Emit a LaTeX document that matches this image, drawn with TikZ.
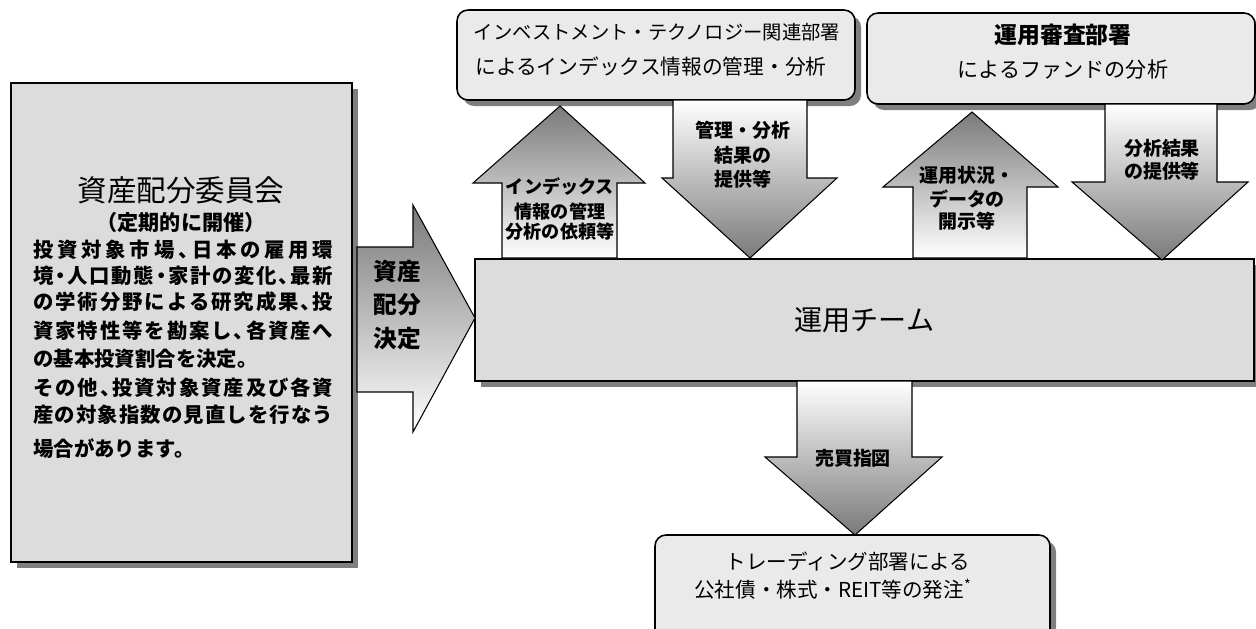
\documentclass[tikz,border=0pt]{standalone}
\usepackage{fontspec}
\setmainfont{Noto Sans CJK JP}
\newfontfamily\jpbody{Noto Sans CJK JP}[RawFeature=+halt]
\usetikzlibrary{shadows}
\definecolor{boxgray}{HTML}{DCDCDC}
\definecolor{boxlight}{HTML}{EAEAEA}
\definecolor{shadowgray}{HTML}{7F7F7F}
\definecolor{arrowdark}{HTML}{7A7A7A}
\makeatletter
\newcommand\jline[2]{\hbox to #1{\let\jl@sep\relax\@tfor\jl@c:=#2\do{\jl@sep\jl@c\let\jl@sep\hfil}}}
\makeatother
\tikzset{
  shadowed/.style={drop shadow={shadow xshift=1.2mm, shadow yshift=-1.2mm, fill=shadowgray, opacity=1}},
  sqbox/.style={draw=black, line width=0.9pt, fill=boxgray, inner sep=0pt, outer sep=0pt, anchor=north west, shadowed},
  rbox/.style={draw=black, line width=0.9pt, fill=boxlight, rounded corners=2.2mm, inner sep=0pt, outer sep=0pt, anchor=north west, shadowed},
  uparrow/.style={draw=black, line width=0.6pt, top color=arrowdark, bottom color=white},
  downarrow/.style={draw=black, line width=0.6pt, top color=white, bottom color=arrowdark},
  lbl/.style={inner sep=0pt, font=\bfseries\fontsize{10.8}{12}\selectfont, align=center},
  body/.style={inner sep=0pt, anchor=west, font=\jpbody\bfseries\fontsize{11.6}{14}\selectfont},
}
\begin{document}
\begin{tikzpicture}[x=0.2mm, y=-0.2mm]
\useasboundingbox (0,0) rectangle (1256,628);
% boxes
\node[sqbox, minimum width=341*0.2mm, minimum height=479*0.2mm] (committee) at (11,83) {};
\node[sqbox, minimum width=779*0.2mm, minimum height=122*0.2mm] (team) at (475,259) {};
\node[rbox, minimum width=398*0.2mm, minimum height=90*0.2mm] (itbox) at (457,10) {};
\node[rbox, minimum width=388*0.2mm, minimum height=91*0.2mm] (review) at (867,13) {};
\node[rbox, minimum width=395*0.2mm, minimum height=110*0.2mm] (trading) at (655,535) {};

% arrows
\shadedraw[uparrow] (357,247) -- (413,247) -- (413,205) -- (475,318) -- (413,432) -- (413,392) -- (357,392) -- cycle;
\shadedraw[uparrow] (502,258) -- (502,183) -- (473,183) -- (560,106) -- (645,183) -- (617,183) -- (617,258) -- cycle;
\shadedraw[downarrow] (673,100) -- (807,100) -- (807,178) -- (837,178) -- (750,258) -- (662,178) -- (673,178) -- cycle;
\shadedraw[uparrow] (913,258) -- (913,187) -- (883,187) -- (972,112) -- (1058,187) -- (1027,187) -- (1027,258) -- cycle;
\shadedraw[downarrow] (1105,104) -- (1217,104) -- (1217,182) -- (1248,182) -- (1162,260) -- (1072,182) -- (1105,182) -- cycle;
\shadedraw[downarrow] (797,381) -- (912,381) -- (912,457) -- (942,457) -- (855,535) -- (765,457) -- (797,457) -- cycle;

% committee text
\node[inner sep=0pt, font=\fontsize{16.8}{18}\selectfont] (ctitle) at (181,190) {資産配分委員会};
\node[inner sep=0pt, font=\bfseries\fontsize{12}{14}\selectfont] (csub) at (181,222) {（定期的に開催）};
\node[body] (b1) at (33,250) {\jline{60mm}{投資対象市場、日本の雇用環}};
\node[body] (b2) at (33,276) {\jline{60mm}{境・人口動態・家計の変化、最新}};
\node[body] (b3) at (33,302) {\jline{60mm}{の学術分野による研究成果、投}};
\node[body] (b4) at (33,331) {\jline{60mm}{資家特性等を勘案し、各資産へ}};
\node[body] (b5) at (33,359) {の基本投資割合を決定。};
\node[body] (b6) at (33,388) {\jline{60mm}{その他、投資対象資産及び各資}};
\node[body] (b7) at (33,415) {\jline{60mm}{産の対象指数の見直しを行なう}};
\node[body] (b8) at (33,449) {場合があります。};

% arrow labels
\node[lbl, font=\bfseries\fontsize{13.5}{19}\selectfont] (decide) at (397,305) {資産\\配分\\決定};
\node[lbl, font=\bfseries\fontsize{10.3}{11.5}\selectfont] (req) at (560,209) {インデックス\\[3pt]情報の管理\\分析の依頼等};
\node[lbl] (res1) at (743,155) {管理・分析\\[2pt]結果の\\[2pt]提供等};
\node[lbl] (disc) at (967,198) {運用状況・\\[2pt]データの\\[0pt]開示等};
\node[lbl] (res2) at (1162,160) {分析結果\\[1pt]の提供等};
\node[lbl] (order) at (853,458) {売買指図};

% box texts
\node[inner sep=0pt, font=\fontsize{16}{18}\selectfont] (teamtxt) at (team.center) {運用チーム};
\node[inner sep=0pt, font=\fontsize{11}{12}\selectfont] (it1) at (657,32) {インベストメント・テクノロジー関連部署};
\node[inner sep=0pt, font=\fontsize{11.8}{13}\selectfont] (it2) at (651,67) {によるインデックス情報の管理・分析};
\node[inner sep=0pt, font=\bfseries\fontsize{13}{14}\selectfont] (rv1) at (1063,35) {運用審査部署};
\node[inner sep=0pt, font=\fontsize{12}{14}\selectfont] (rv2) at (1063,70) {によるファンドの分析};
\node[inner sep=0pt, font=\fontsize{11.7}{13}\selectfont] (tr1) at (848,562) {トレーディング部署による};
\node[inner sep=0pt, font=\fontsize{11.7}{13}\selectfont] (tr2) at (833,589) {公社債・株式・REIT等の発注\textsuperscript{*}};
\end{tikzpicture}
\end{document}
